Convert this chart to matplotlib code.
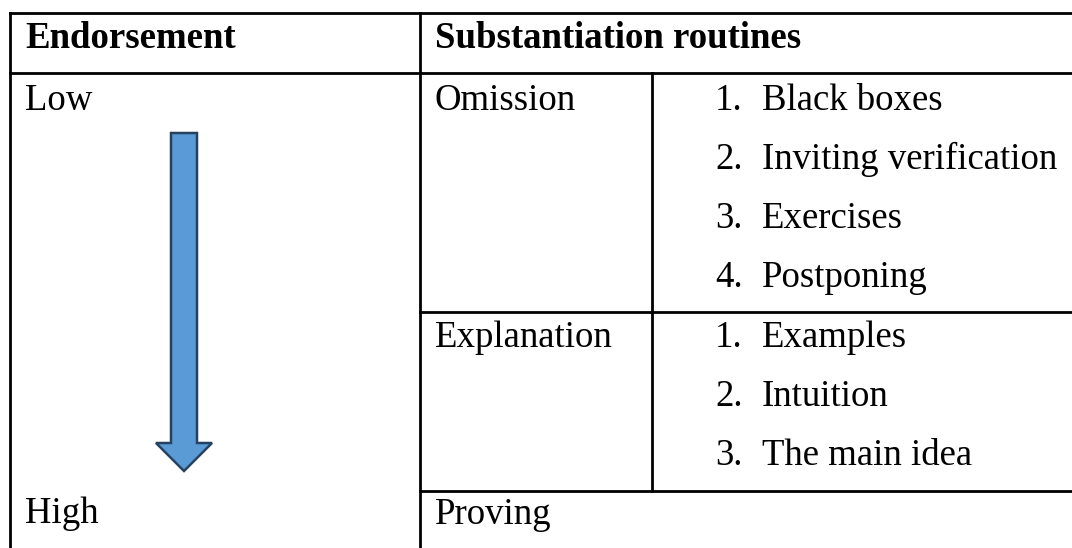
import matplotlib.pyplot as plt
from matplotlib.patches import Polygon

# Table content
headers = ['Endorsement', 'Substantiation routines']
endorsement_levels = ['Low', 'High']
routines = ['Omission', 'Explanation', 'Proving']
omission_items = ['Black boxes', 'Inviting verification', 'Exercises', 'Postponing']
explanation_items = ['Examples', 'Intuition', 'The main idea']

FONT = ['Liberation Serif', 'DejaVu Serif']
SIZE = 26.5
LW = 2.0
LINE_STEP = 59

fig = plt.figure(figsize=(10.72, 5.48), dpi=100)
ax = fig.add_axes([0, 0, 1, 1])
ax.set_xlim(0, 1072)
ax.set_ylim(548, 0)
ax.axis('off')


def hline(y, x0, x1):
    ax.plot([x0, x1], [y, y], color='black', lw=LW, solid_capstyle='projecting')


def vline(x, y0, y1):
    ax.plot([x, x], [y0, y1], color='black', lw=LW, solid_capstyle='projecting')


def put(x, y, s, bold=False):
    ax.text(x, y, s, family=FONT, fontsize=SIZE, va='baseline', ha='left',
            fontweight='bold' if bold else 'normal', color='black')


# Grid lines
hline(13, 10, 1072)
hline(73, 10, 1072)
hline(312, 420, 1072)
hline(491, 420, 1072)
vline(10, 13, 548)
vline(420, 13, 548)
vline(652, 73, 491)

# Header row
put(25, 48, headers[0], bold=True)
put(435, 48, headers[1], bold=True)

# Endorsement column
put(25, 110, endorsement_levels[0])
put(25, 523, endorsement_levels[1])

# Down arrow from low to high
arrow = Polygon([(171, 133), (197, 133), (197, 443), (212, 443), (184, 471),
                 (156, 443), (171, 443)], closed=True,
                facecolor='#5B9BD5', edgecolor='#264263', lw=1.8)
ax.add_patch(arrow)

# Routines with their numbered items
row_tops = [110, 347, 524]
item_lists = [omission_items, explanation_items, []]
for name, y0, items in zip(routines, row_tops, item_lists):
    put(435, y0, name)
    for i, item in enumerate(items):
        y = y0 + i * LINE_STEP
        put(715, y, f'{i + 1}.')
        put(762, y, item)

fig.savefig('out.png', dpi=100)
